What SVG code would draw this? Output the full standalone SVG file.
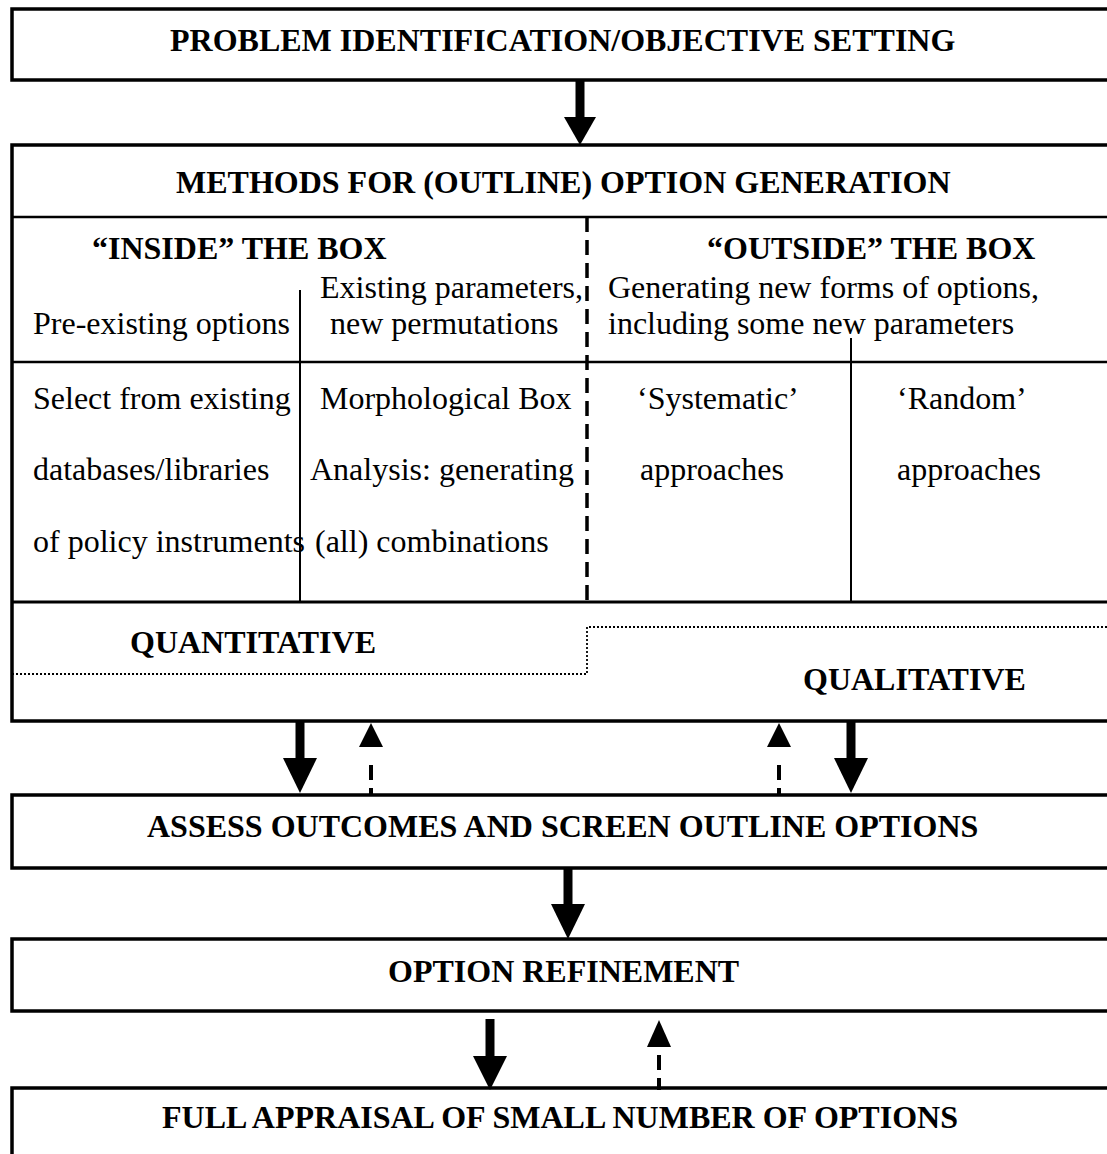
<svg xmlns="http://www.w3.org/2000/svg" width="1107" height="1154" viewBox="0 0 1107 1154">
<style>
.box{fill:#fff;stroke:#000;stroke-width:3.5}
.ln{stroke:#000;fill:none}
.t{font-family:"Liberation Serif","Times New Roman",serif;font-size:32px;fill:#000}
.b{font-weight:bold}
.shaft{stroke:#000;stroke-width:9}
.dshaft{stroke:#000;stroke-width:4;stroke-dasharray:15 8}
.head{fill:#000}
</style>
<rect width="1107" height="1154" fill="#fff"/>
<g id="problem">
<rect class="box" x="12" y="9" width="1200" height="71"/>
<text class="t b" x="170" y="51">PROBLEM IDENTIFICATION/OBJECTIVE SETTING</text>
</g>
<g id="methods">
<rect class="box" x="12" y="145" width="1200" height="576"/>
<line class="ln" x1="12" y1="217" x2="1107" y2="217" stroke-width="2.5"/>
<text class="t b" x="176" y="193">METHODS FOR (OUTLINE) OPTION GENERATION</text>
<line class="ln" x1="587" y1="217" x2="587" y2="602" stroke-width="3.5" stroke-dasharray="15 8"/>
<line class="ln" x1="12" y1="362" x2="1107" y2="362" stroke-width="2.5"/>
<line class="ln" x1="300" y1="290" x2="300" y2="602" stroke-width="2"/>
<line class="ln" x1="851" y1="338" x2="851" y2="602" stroke-width="2"/>
<line class="ln" x1="12" y1="602" x2="1107" y2="602" stroke-width="3"/>
<path class="ln" d="M12,674 H587 V627 H1107" stroke-width="1.8" stroke-dasharray="2 2"/>
<text class="t b" x="92" y="259">“INSIDE” THE BOX</text>
<text class="t b" x="707" y="259">“OUTSIDE” THE BOX</text>
<text class="t" x="320" y="298">Existing parameters,</text>
<text class="t" x="330" y="334">new permutations</text>
<text class="t" x="33" y="334">Pre-existing options</text>
<text class="t" x="608" y="298">Generating new forms of options,</text>
<text class="t" x="608" y="334">including some new parameters</text>
<text class="t" x="33" y="409">Select from existing</text>
<text class="t" x="33" y="480">databases/libraries</text>
<text class="t" x="33" y="552">of policy instruments</text>
<text class="t" x="320" y="409">Morphological Box</text>
<text class="t" x="310" y="480">Analysis: generating</text>
<text class="t" x="315" y="552">(all) combinations</text>
<text class="t" x="637" y="409">‘Systematic’</text>
<text class="t" x="640" y="480">approaches</text>
<text class="t" x="897" y="409">‘Random’</text>
<text class="t" x="897" y="480">approaches</text>
<text class="t b" x="130" y="653">QUANTITATIVE</text>
<text class="t b" x="803" y="690">QUALITATIVE</text>
</g>
<g id="assess">
<rect class="box" x="12" y="795" width="1200" height="73"/>
<text class="t b" x="147" y="837">ASSESS OUTCOMES AND SCREEN OUTLINE OPTIONS</text>
</g>
<g id="refine">
<rect class="box" x="12" y="939" width="1200" height="72"/>
<text class="t b" x="388" y="982">OPTION REFINEMENT</text>
</g>
<g id="appraisal">
<rect class="box" x="12" y="1088" width="1200" height="100"/>
<text class="t b" x="162" y="1128">FULL APPRAISAL OF SMALL NUMBER OF OPTIONS</text>
</g>
<g id="connectors">
<line class="shaft" x1="580" y1="81" x2="580" y2="118"/>
<polygon class="head" points="564,117 596,117 580,145"/>
<line class="shaft" x1="300" y1="722" x2="300" y2="759"/>
<polygon class="head" points="283,758 317,758 300,793"/>
<line class="shaft" x1="851" y1="722" x2="851" y2="759"/>
<polygon class="head" points="834,758 868,758 851,793"/>
<line class="dshaft" x1="371" y1="765" x2="371" y2="795"/>
<polygon class="head" points="359,747 383,747 371,723"/>
<line class="dshaft" x1="779" y1="765" x2="779" y2="795"/>
<polygon class="head" points="767,747 791,747 779,723"/>
<line class="shaft" x1="568" y1="868" x2="568" y2="905"/>
<polygon class="head" points="551,904 585,904 568,939"/>
<line class="shaft" x1="490" y1="1019" x2="490" y2="1057"/>
<polygon class="head" points="473,1056 507,1056 490,1090"/>
<line class="dshaft" x1="659" y1="1055" x2="659" y2="1090" stroke-dasharray="6 12"/>
<polygon class="head" points="647,1047 671,1047 659,1020"/>
</g>
</svg>
